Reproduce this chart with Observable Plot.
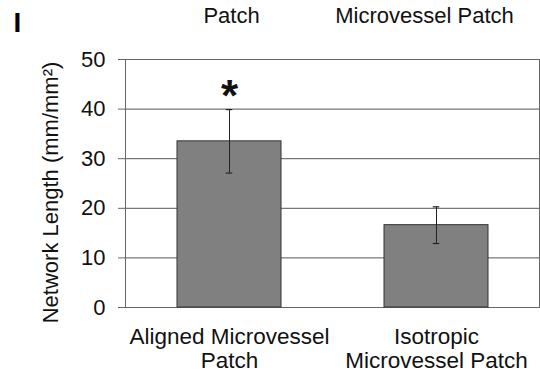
<!DOCTYPE html>
<html>
<head>
<meta charset="utf-8">
<script src="https://cdn.jsdelivr.net/npm/d3@7"></script>
<script src="https://cdn.jsdelivr.net/npm/@observablehq/plot@0.6"></script>
<style>
  html, body { margin: 0; padding: 0; background: #fff; }
  #chart svg { display: block; }
</style>
</head>
<body>
<div id="chart"></div>
<script>
// Network length per patch type (mean ± error)
const categories = ["Aligned Microvessel\nPatch", "Isotropic\nMicrovessel Patch"];
const means = [33.5, 16.6];
const errors = [6.4, 3.7];
const significance = ["*", ""];
const yTicks = [0, 10, 20, 30, 40, 50];
const yLabel = "Network Length (mm/mm²)";
const panelLetter = "I";
// trailing lines of the category labels from the panel above
const headerLabels = ["Patch", "Microvessel Patch"];
const headerShift = [2, -12];

const rows = categories.map((c, i) => ({
  cat: c,
  mean: means[i],
  lo: means[i] - errors[i],
  hi: means[i] + errors[i],
  sig: significance[i],
  header: headerLabels[i]
}));

const font = "'Liberation Sans', Arial, Helvetica, sans-serif";

const chart = Plot.plot({
  width: 540,
  height: 375,
  marginLeft: 125,
  marginRight: 1,
  marginTop: 59,
  marginBottom: 68,
  style: {fontFamily: font, fontSize: "22px", color: "#111", background: "#fff"},
  x: {domain: categories, paddingInner: 0.5, paddingOuter: 0.25, axis: null},
  y: {domain: [0, 50], axis: null},
  marks: [
    // horizontal gridlines
    Plot.ruleY(yTicks, {stroke: "#555", strokeWidth: 1}),
    // plot frame
    Plot.frame({stroke: "#666", strokeWidth: 1}),
    // y axis with outward ticks
    Plot.axisY({
      ticks: yTicks,
      tickSize: 7,
      tickPadding: 13,
      stroke: "#666",
      fontSize: 22,
      fill: "#111",
      label: null
    }),
    Plot.barY(rows, {x: "cat", y: "mean", fill: "#808080", stroke: "#333", strokeWidth: 1}),
    // error bars
    Plot.ruleX(rows, {x: "cat", y1: "lo", y2: "hi", stroke: "#222", strokeWidth: 1}),
    Plot.tickY(rows, {x: "cat", y: "hi", stroke: "#222", strokeWidth: 1.2, insetLeft: 48.75, insetRight: 48.75}),
    Plot.tickY(rows, {x: "cat", y: "lo", stroke: "#222", strokeWidth: 1.2, insetLeft: 48.75, insetRight: 48.75}),
    // significance marker
    Plot.text(rows, {x: "cat", y: "hi", text: "sig", fontSize: 44, fontWeight: "bold", fill: "#111", lineAnchor: "bottom", dy: 1}),
    // category labels below the axis
    Plot.text(rows, {x: "cat", text: "cat", frameAnchor: "bottom", lineAnchor: "top", dy: 19, fontSize: 22.5, lineHeight: 1.08, fill: "#111"}),
    // y axis title
    Plot.text([yLabel], {frameAnchor: "left", textAnchor: "middle", rotate: -90, dx: -75, dy: 9, fontSize: 22, fill: "#111"}),
    // header labels from the panel above
    Plot.text([rows[0]], {x: "cat", text: "header", frameAnchor: "top", lineAnchor: "bottom", dy: -37, dx: headerShift[0], fontSize: 22, fill: "#111"}),
    Plot.text([rows[1]], {x: "cat", text: "header", frameAnchor: "top", lineAnchor: "bottom", dy: -37, dx: headerShift[1], fontSize: 22, fill: "#111"}),
    // panel letter
    Plot.text([panelLetter], {frameAnchor: "top-left", dx: -108, dy: -36, fontSize: 28, fontWeight: "bold", fill: "#000", lineAnchor: "middle", textAnchor: "middle"})
  ]
});

document.getElementById("chart").appendChild(chart);
</script>
</body>
</html>
